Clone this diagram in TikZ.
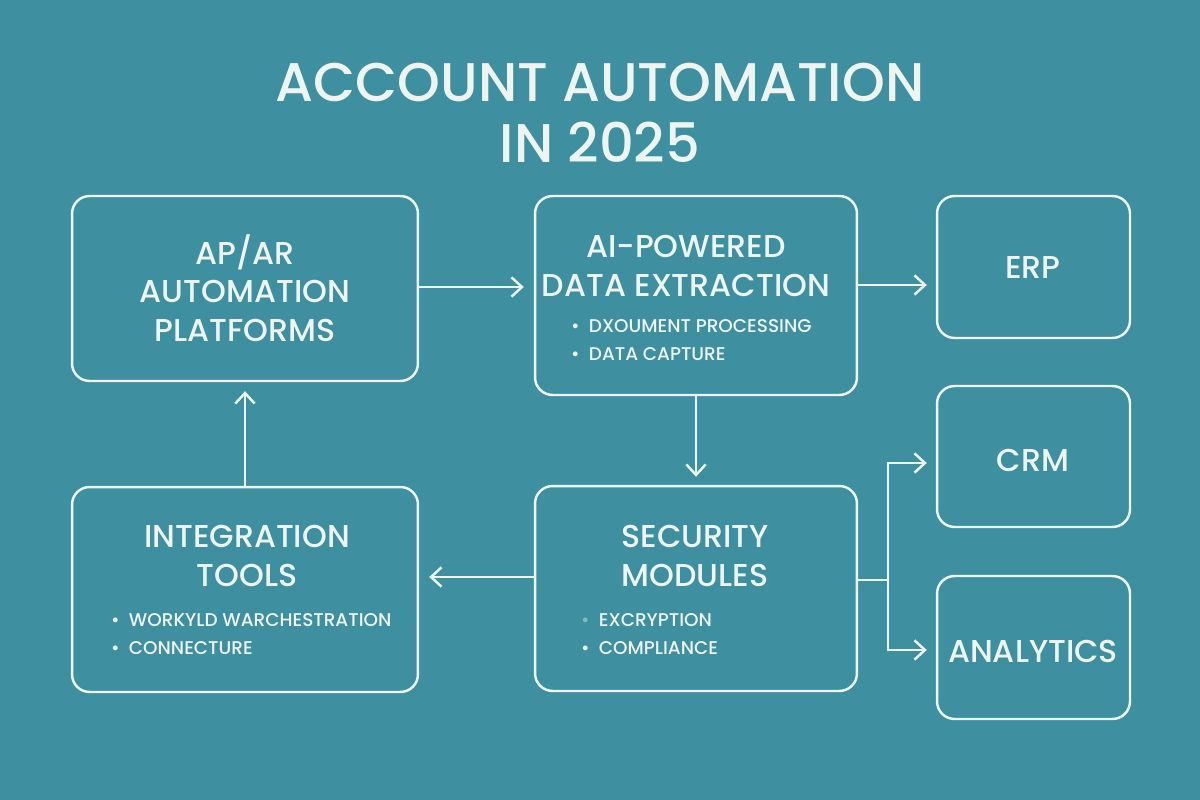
\documentclass[tikz,border=0pt]{standalone}
\usepackage{fontspec}
\setmainfont{Poppins}[BoldFont={Poppins Medium}]
\usetikzlibrary{arrows.meta}
\definecolor{bgteal}{HTML}{3E8FA0}
\definecolor{ink}{HTML}{EEF5F0}
\tikzset{
  blk/.style={draw=ink, line width=1.4pt, rounded corners=10pt, inner sep=0pt},
  head/.style={text=ink, font=\fontsize{18}{22}\selectfont\bfseries, align=center},
  item/.style={text=ink, font=\fontsize{10.5}{12}\selectfont\bfseries, anchor=west},
  flow/.style={draw=ink, line width=1.4pt, -{Straight Barb[length=6pt,width=11pt]}}
}
\begin{document}
\begin{tikzpicture}[x=0.02cm, y=-0.02cm]
		\fill[bgteal] (0,0) rectangle (1200,800);
		\useasboundingbox (0,0) rectangle (1200,800);
		\node[text=ink, font=\fontsize{31}{35}\selectfont\bfseries, align=center] (title) at (600,113) {ACCOUNT AUTOMATION\\IN 2025};

		\node[blk, minimum width=6.92cm, minimum height=3.70cm] (ap) at (245,288.5) {};
		\node[blk, minimum width=6.44cm, minimum height=3.98cm] (ai) at (696,295.5) {};
		\node[blk, minimum width=3.86cm, minimum height=2.84cm] (erp) at (1033.5,267) {};
		\node[blk, minimum width=3.86cm, minimum height=2.82cm] (crm) at (1033.5,456.5) {};
		\node[blk, minimum width=3.86cm, minimum height=2.86cm] (ana) at (1033.5,647.5) {};
		\node[blk, minimum width=6.44cm, minimum height=4.10cm] (sec) at (696,588.5) {};
		\node[blk, minimum width=6.92cm, minimum height=4.10cm] (int) at (245,589.5) {};

		\node[head] (t1) at (245,288) {AP/AR\\AUTOMATION\\PLATFORMS};
		\node[head] (t2) at (686,266) {AI-POWERED\\DATA EXTRACTION};
		\node[item] (b21) at (565,326) {•\enspace DXOUMENT PROCESSING};
		\node[item] (b22) at (565,354) {•\enspace DATA CAPTURE};
		\node[head] (t5) at (1033,267) {ERP};
		\node[head] (t6) at (1033,460) {CRM};
		\node[head] (t7) at (1033,651) {ANALYTICS};
		\node[head] (t3) at (695,556) {SECURITY\\MODULES};
		\node[item] (b31) at (575,620) {\textcolor{ink!40!bgteal}{•}\enspace EXCRYPTION};
		\node[item] (b32) at (575,648) {•\enspace COMPLIANCE};
		\node[head] (t4) at (247,556) {INTEGRATION\\TOOLS};
		\node[item] (b41) at (105,620) {•\enspace WORKYLD WARCHESTRATION};
		\node[item] (b42) at (105,648) {•\enspace CONNECTURE};

		\coordinate (fork) at (888,580);
		\draw[flow] (ap.east |- 0,287) -- ([xshift=-0.2cm]ai.west |- 0,287);
		\draw[flow] (ai.east |- 0,285) -- ([xshift=-0.18cm]erp.west |- 0,285);
		\draw[flow] (ai.south) -- ([yshift=0.16cm]sec.north);
		\draw[flow] (sec.west |- 0,577) -- ([xshift=0.2cm]int.east |- 0,577);
		\draw[flow] (int.north) -- ([yshift=-0.18cm]ap.south);
		\draw[flow] (sec.east |- fork) -- (fork) |- ([xshift=-0.18cm]crm.west |- 0,463);
		\draw[flow] (fork) |- ([xshift=-0.18cm]ana.west |- 0,650);
\end{tikzpicture}
\end{document}
